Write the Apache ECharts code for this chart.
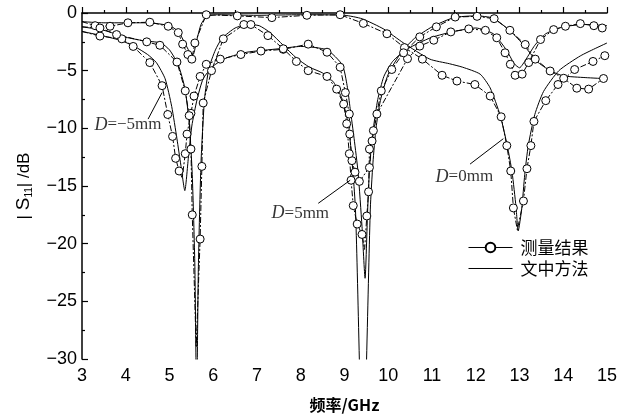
<!DOCTYPE html>
<html><head><meta charset="utf-8">
<script src="https://cdn.jsdelivr.net/npm/echarts@6/dist/echarts.min.js"></script>
<style>html,body{margin:0;padding:0;background:#fff}#c{width:630px;height:418px}</style>
</head><body><div id="c"></div>
<script>
// ---------- axis ----------
const xTicks = [3,4,5,6,7,8,9,10,11,12,13,14,15];
const yTicks = [0,-5,-10,-15,-20,-25,-30];

// ---------- D = 0 mm ----------
const d0MeasX = [3.0,3.3,3.64,4.05,4.55,4.97,5.2,5.3,5.42,5.51,5.58,5.84,6.55,7.34,8.14,8.9,9.43,9.97,10.37,10.78,11.23,11.57,11.98,12.33,12.58,12.71,12.8,12.86,12.95,13.09,13.17,13.26,13.33,13.6,13.88,14.26,14.68,14.95];
const d0MeasY = [-0.75,-1.1,-1.15,-0.85,-0.8,-1.15,-1.7,-2.7,-3.6,-4.0,-2.6,-0.15,-0.25,-0.4,-0.2,-0.15,-0.9,-1.8,-3.0,-4.0,-5.4,-5.9,-6.2,-7.2,-9.0,-11.5,-13.7,-16.9,-18.8,-16.3,-13.5,-11.5,-9.4,-7.6,-6.2,-4.9,-4.2,-3.7];
const d0MeasNoMark = [0,28];
const d0CalcX = [3,3.5,4,4.5,5,5.2,5.35,5.45,5.54,5.62,5.72,5.85,6.1,7,8,9,9.4,9.9,10.35,10.95,11.4,11.7,12.1,12.33,12.56,12.72,12.83,12.92,12.97,13.05,13.12,13.2,13.35,13.55,13.9,14.4,15];
const d0CalcY = [-0.75,-0.85,-0.85,-0.85,-1.1,-1.6,-2.6,-3.3,-3.6,-2.4,-1.0,-0.3,-0.15,-0.2,-0.15,-0.2,-0.5,-1.4,-2.6,-4.0,-4.4,-4.7,-5.3,-6.5,-8.9,-11.5,-13.8,-16.8,-18.9,-17.0,-14.0,-11.5,-8.8,-6.8,-5.0,-3.7,-2.6];

// ---------- D = -5 mm ----------
const dm5MeasX = [3.0,3.41,3.91,4.17,4.55,4.83,4.96,5.07,5.14,5.22,5.29,5.36,5.4,5.49,5.56,5.7,5.84,6.16,6.63,7.09,7.6,8.17,8.6,8.9,9.02,9.11,9.12,9.17,9.24,9.34,9.57,9.63,9.74,10.44,10.72,11.04,11.43,11.84,12.22,12.48,12.67,12.79,12.9,13.06,13.21,13.48,13.78,14.05,14.39,14.7,14.89];
const dm5MeasY = [-1.6,-2.0,-2.24,-2.9,-4.3,-6.3,-8.8,-10.7,-12.6,-13.7,-14.3,-12.2,-10.5,-8.7,-7.2,-5.5,-4.45,-4.0,-3.6,-3.3,-3.15,-2.7,-3.4,-4.7,-6.9,-8.76,-10.5,-12.8,-13.8,-14.6,-13.4,-11.1,-8.76,-3.96,-2.87,-2.36,-1.64,-1.38,-1.5,-2.15,-3.45,-4.45,-5.4,-5.3,-4.3,-2.3,-1.44,-1.15,-0.92,-1.1,-1.3];
const dm5MeasNoMark = [0,10];
const dm5CalcX = [3,3.5,3.9,4.2,4.5,4.7,4.9,5.05,5.17,5.26,5.35,5.43,5.51,5.63,5.77,6.0,6.3,6.77,7.5,8.0,8.6,8.95,9.06,9.13,9.22,9.31,9.4,9.47,9.53,9.58,9.66,9.76,9.9,10.1,10.4,10.7,11.0,11.5,12,12.4,12.7,12.88,13.0,13.15,13.35,13.6,14,14.5,15];
const dm5CalcY = [-1.6,-2.0,-2.4,-2.9,-3.6,-4.3,-5.7,-8.1,-10.9,-13.2,-15.4,-12.6,-9.8,-7.5,-5.7,-4.6,-3.9,-3.4,-3.1,-2.9,-3.2,-4.5,-6.3,-8.3,-10.9,-13.8,-18.5,-23,-17,-13,-10,-7.5,-5.5,-4.2,-3.2,-2.6,-2.1,-1.6,-1.3,-1.8,-3.2,-4.4,-4.75,-4.0,-2.8,-1.8,-1.2,-1.0,-1.1];

// ---------- D = 5 mm ----------
const d5MeasX = [3.0,3.41,3.79,4.48,4.78,5.17,5.36,5.45,5.49,5.52,5.61,5.7,5.74,5.77,5.96,6.23,6.7,6.86,7.25,7.6,7.9,8.17,8.6,8.82,8.98,9.05,9.11,9.15,9.2,9.29,9.4,9.46,9.51,9.55,9.57,9.66,9.84,10.08,10.35,10.72,11.1,11.53,12.03,12.42,12.78,13.13,13.36,13.7,14.01,14.31,14.58,14.92];
const d5MeasY = [-1.2,-1.3,-1.87,-2.5,-2.8,-4.25,-6.75,-8.9,-11.8,-17.5,-29,-19.6,-13.3,-7.8,-5.0,-2.24,-1.0,-1.0,-1.96,-3.1,-4.2,-5.0,-5.5,-6.6,-7.9,-9.6,-12.2,-14.5,-16.7,-18.3,-19.2,-20.5,-17.6,-15.5,-11.8,-10.2,-6.75,-4.9,-3.45,-2.07,-1.2,-0.35,-0.29,-0.49,-1.5,-2.73,-4.0,-5.03,-5.66,-6.52,-6.6,-5.68];
const d5MeasNoMark = [0,10,31];
const d5CalcX = [3,3.5,4,4.4,4.8,5.0,5.2,5.35,5.45,5.52,5.58,5.62,5.66,5.72,5.8,5.9,6.05,6.2,6.5,6.8,7.05,7.3,7.6,7.9,8.2,8.5,8.75,8.95,9.1,9.25,9.42,9.59,9.65,9.72,9.82,10,10.3,10.6,11,11.5,12,12.4,12.8,13.1,13.4,13.7,14,14.5,15];
const d5CalcY = [-1.2,-1.5,-2.1,-2.4,-2.6,-3.2,-4.5,-6.5,-9.5,-14,-22,-34,-22,-13,-7.5,-4.8,-3.2,-2.2,-1.3,-1.0,-1.1,-1.7,-2.8,-3.9,-4.7,-5.2,-6.0,-7.5,-10,-17,-40,-17,-13,-10,-7.6,-5.3,-3.4,-2.2,-1.2,-0.4,-0.25,-0.45,-1.6,-2.8,-4.2,-5.0,-5.45,-5.6,-5.7];

// ---------- annotations ----------
const annText = ['=−5mm','=5mm','=0mm'];
const annTextX = [4.05,7.99,11.74];
const annTextY = [-9.7,-17.4,-14.2];
const arrowFromX = [4.51,8.40,11.87];
const arrowFromY = [-9.2,-16.5,-13.1];
const arrowToX = [4.83,9.13,12.63];
const arrowToY = [-6.9,-14.5,-10.9];

const legendNames = ['测量结果','文中方法'];

function pairs(xs, ys, noMark) {
  return xs.map((x, i) => (noMark && noMark.indexOf(i) >= 0) ? {value:[x, ys[i]], symbol:'none'} : [x, ys[i]]);
}
function measSeries(xs, ys, noMark) {
  return {
    type:'line', name:legendNames[0], data:pairs(xs, ys, noMark),
    symbol:'circle', symbolSize:8, showAllSymbol:true,
    itemStyle:{color:'#fff', borderColor:'#000', borderWidth:1},
    lineStyle:{color:'#000', width:1, type:[6,2,2,2]},
    z:3, silent:true, animation:false
  };
}
function calcSeries(xs, ys) {
  return {
    type:'line', name:legendNames[1], data:pairs(xs, ys),
    symbol:'none', smooth:0.2,
    lineStyle:{color:'#000', width:1},
    itemStyle:{color:'rgba(0,0,0,0)', borderColor:'rgba(0,0,0,0)'},
    z:2, silent:true, animation:false
  };
}

const chart = echarts.init(document.getElementById('c'), null, {renderer:'canvas'});
const labelFont = 'Liberation Sans';
chart.setOption({
  animation:false,
  backgroundColor:'#fff',
  grid:{left:82, right:23, top:13, bottom:56},
  xAxis:{
    type:'value', min:xTicks[0], max:xTicks[xTicks.length-1], interval:1,
    name:'频率/GHz', nameLocation:'middle', nameGap:38,
    nameTextStyle:{fontFamily:'Noto Sans CJK SC', fontSize:16, color:'#000', fontWeight:'bold'},
    axisLine:{lineStyle:{color:'#000', width:1.5}},
    axisTick:{inside:true, length:6, lineStyle:{color:'#000', width:1.2}},
    minorTick:{show:true, splitNumber:2, length:3, lineStyle:{color:'#000', width:1.2}},
    splitLine:{show:false},
    axisLabel:{fontFamily:labelFont, fontSize:18, color:'#000', margin:8}
  },
  yAxis:{
    type:'value', min:yTicks[yTicks.length-1], max:yTicks[0], interval:5,
    name:'| {i|S}{sub|11}| /dB', nameLocation:'middle', nameGap:48, nameRotate:90,
    nameTextStyle:{fontFamily:labelFont, fontSize:17, color:'#000',
      rich:{i:{fontFamily:labelFont, fontSize:19, color:'#000'},
            sub:{fontFamily:labelFont, fontSize:10, color:'#000', verticalAlign:'bottom', padding:[10,0,0,0]}}},
    axisLine:{show:true, lineStyle:{color:'#000', width:1.5}},
    axisTick:{show:true, inside:true, length:6, lineStyle:{color:'#000', width:1.2}},
    minorTick:{show:true, splitNumber:2, length:3, lineStyle:{color:'#000', width:1.2}},
    splitLine:{show:false},
    axisLabel:{fontFamily:labelFont, fontSize:18, color:'#000', margin:5,
      formatter:v => v < 0 ? '−' + (-v) : String(v)}
  },
  legend:{
    data:legendNames, orient:'vertical', left:463, top:234,
    itemWidth:44, itemHeight:12, itemGap:4,
    lineStyle:{type:'solid', width:1, color:'#000'},
    textStyle:{fontFamily:'Noto Sans CJK SC', fontSize:17, color:'#000', padding:[0,0,0,3]},
    selectedMode:false
  },
  series:[
    calcSeries(d0CalcX, d0CalcY),
    calcSeries(dm5CalcX, dm5CalcY),
    calcSeries(d5CalcX, d5CalcY),
    measSeries(d0MeasX, d0MeasY, d0MeasNoMark),
    measSeries(dm5MeasX, dm5MeasY, dm5MeasNoMark),
    measSeries(d5MeasX, d5MeasY, d5MeasNoMark),
    {
      type:'scatter', name:'annotation', silent:true, animation:false,
      data:annTextX.map((x, i) => [x, annTextY[i]]),
      symbolSize:1, itemStyle:{color:'rgba(0,0,0,0)'},
      label:{show:true, position:'inside',
        formatter:p => '{i|D}{r|' + annText[p.dataIndex] + '}',
        rich:{i:{fontFamily:'Liberation Serif', fontStyle:'italic', fontSize:18, color:'#000'},
              r:{fontFamily:'Liberation Serif', fontSize:17, color:'#000'}}},
      markLine:{silent:true, animation:false, symbol:['none','arrow'], symbolSize:[0,8],
        lineStyle:{type:'solid', color:'#000', width:1}, label:{show:false},
        data:arrowFromX.map((x, i) => [{coord:[x, arrowFromY[i]]}, {coord:[arrowToX[i], arrowToY[i]]}])}
    }
  ]
});
</script></body></html>
